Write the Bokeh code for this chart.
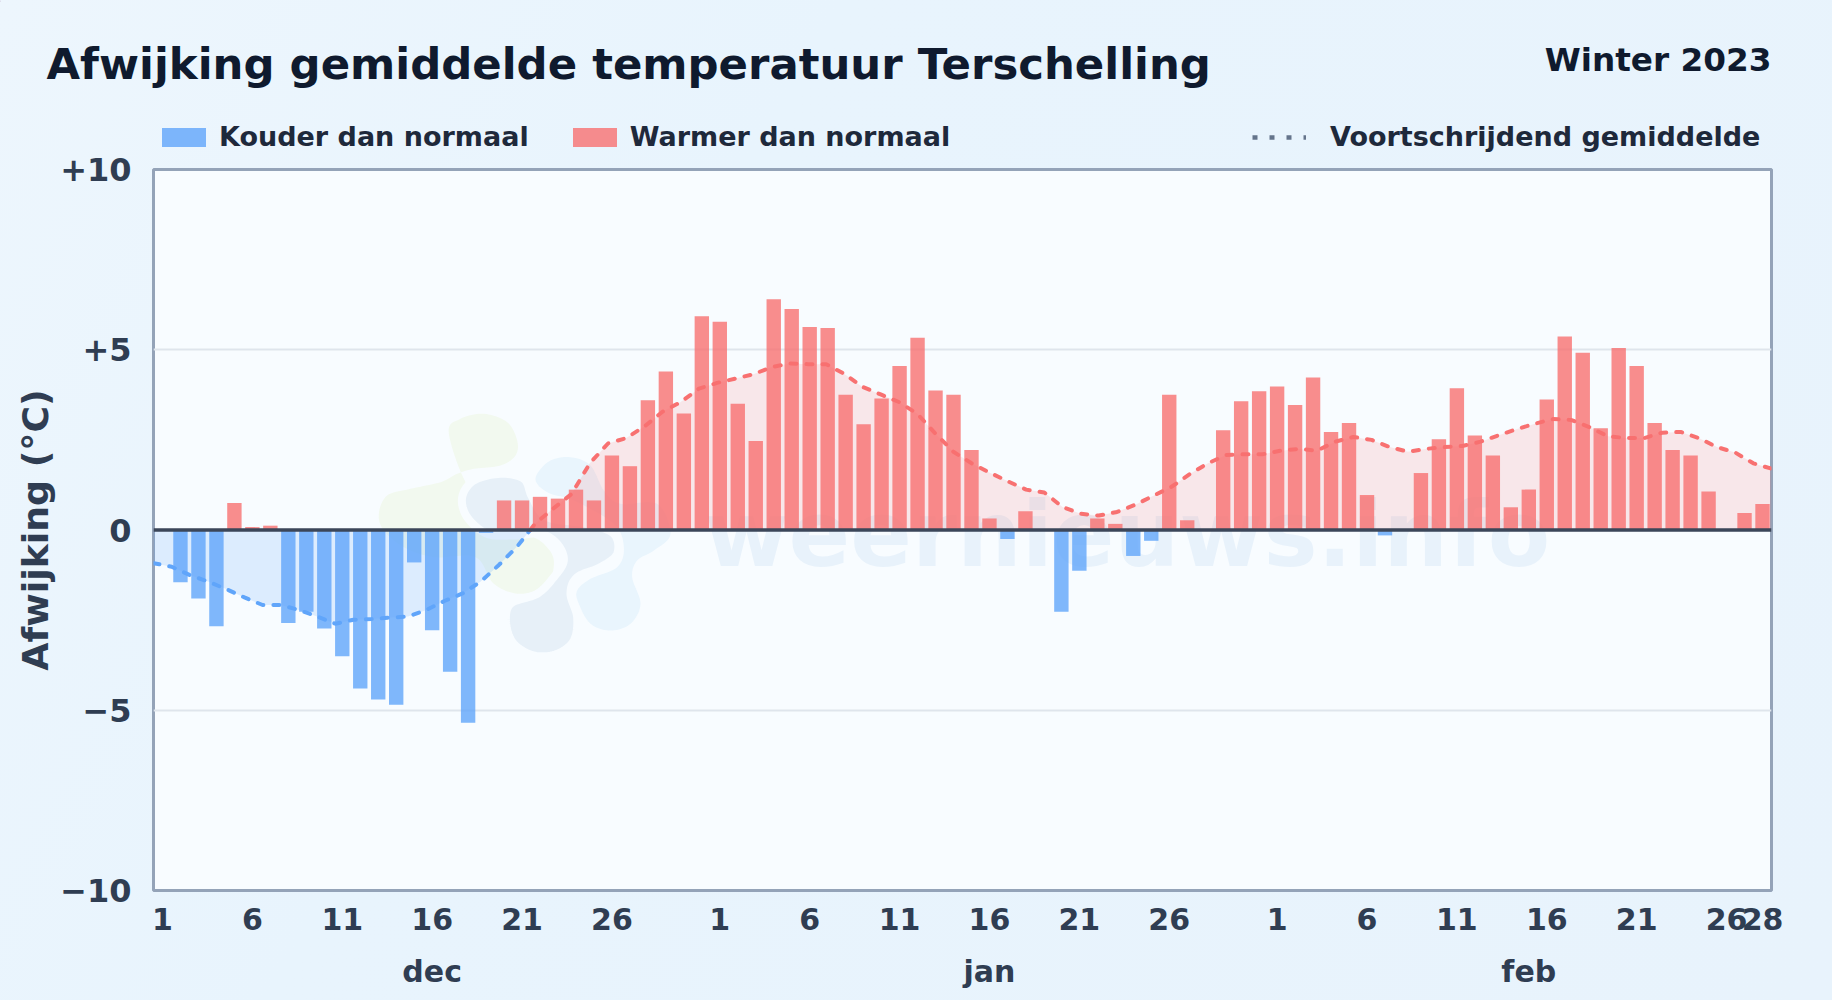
from bokeh.plotting import figure
from bokeh.models import (Range1d, LinearAxis, FixedTicker, Span, Label, Legend, LegendItem,
                          ColumnDataSource, AllLabels)
from bokeh.embed import file_html
from bokeh.resources import INLINE

FONT = "DejaVu Sans"

# --- data -----------------------------------------------------------------
dec_values = [0, -1.45, -1.9, -2.67, 0.75, 0.08, 0.12, -2.58, -2.27, -2.73, -3.5, -4.4, -4.7, -4.85,
              -0.9, -2.78, -3.93, -5.35, -0.08, 0.82, 0.82, 0.92, 0.87, 1.12, 0.82, 2.07, 1.77, 3.6, 4.4,
              3.23, 5.93]
jan_values = [5.78, 3.5, 2.47, 6.4, 6.13, 5.63, 5.6, 3.75, 2.93, 3.65, 4.55, 5.33, 3.87, 3.75, 2.22, 0.32,
              -0.25, 0.52, 0, -2.27, -1.13, 0.32, 0.17, -0.72, -0.3, 3.75, 0.27, 0, 2.77, 3.57, 3.85]
feb_values = [3.98, 3.47, 4.23, 2.72, 2.97, 0.97, -0.15, 0, 1.58, 2.52, 3.93, 2.62, 2.07, 0.63, 1.12, 3.62,
              5.37, 4.92, 2.82, 5.05, 4.55, 2.97, 2.22, 2.07, 1.07, 0, 0.47, 0.72]
rolling_mean = [-0.92, -1.02, -1.25, -1.43, -1.64, -1.87, -2.08, -2.08, -2.22, -2.4, -2.6, -2.49,
                -2.47, -2.43, -2.4, -2.22, -1.97, -1.76, -1.43, -0.97, -0.46, 0.18, 0.6, 1.0, 1.85,
                2.4, 2.55, 2.87, 3.28, 3.55, 3.92, 4.08, 4.2, 4.32, 4.52, 4.62, 4.6, 4.6, 4.33,
                3.97, 3.76, 3.55, 3.23, 2.68, 2.17, 1.85, 1.59, 1.35, 1.12, 1.04, 0.64, 0.45, 0.4,
                0.5, 0.7, 0.95, 1.2, 1.55, 1.85, 2.08, 2.1, 2.1, 2.2, 2.25, 2.2, 2.45, 2.58, 2.5,
                2.3, 2.17, 2.25, 2.3, 2.33, 2.45, 2.63, 2.8, 2.95, 3.08, 3.05, 2.85, 2.6, 2.55,
                2.55, 2.7, 2.72, 2.55, 2.3, 2.15, 1.85, 1.7]
month_names = ["dec", "jan", "feb"]
month_days = [[1, 6, 11, 16, 21, 26], [1, 6, 11, 16, 21, 26], [1, 6, 11, 16, 21, 26, 28]]
month_lengths = [31, 31, 28]
month_centres = [16, 16, 15]
y_ticks = [-10, -5, 0, 5, 10]
y_tick_labels = ["\u221210", "\u22125", "0", "+5", "+10"]

TITLE = "Afwijking gemiddelde temperatuur Terschelling"
SUBTITLE = "Winter 2023"
WATERMARK = "weernieuws.info"

# --- derived --------------------------------------------------------------
all_values = dec_values + jan_values + feb_values
days = list(range(1, len(all_values) + 1))
neg = dict(x=[d for d, v in zip(days, all_values) if v < 0], y=[v for v in all_values if v < 0])
pos = dict(x=[d for d, v in zip(days, all_values) if v > 0], y=[v for v in all_values if v > 0])

xticks, xover, offset = [], {}, 0
mticks, mover = [], {}
for name, ds, ln, c in zip(month_names, month_days, month_lengths, month_centres):
    for d in ds:
        xticks.append(offset + d)
        xover[offset + d] = str(d)
    mticks.append(offset + c)
    mover[offset + c] = name
    offset += ln

# split the rolling mean where it crosses zero
idx = list(range(len(rolling_mean)))
cross = next(i for i in idx[:-1] if rolling_mean[i] < 0 <= rolling_mean[i + 1])
a, b = rolling_mean[cross], rolling_mean[cross + 1]
xc = cross + (-a) / (b - a)
neg_x = idx[:cross + 1] + [xc]
neg_y = rolling_mean[:cross + 1] + [0.0]
pos_x = [xc] + idx[cross + 1:]
pos_y = [0.0] + rolling_mean[cross + 1:]

# --- header figure: title, subtitle, legends ------------------------------
PAGE_W, PAGE_H = 1832, 1000
HEAD_H = 162
OVERLAP = 12
h = figure(width=PAGE_W, height=HEAD_H, output_backend="svg", toolbar_location=None,
           x_range=Range1d(0, PAGE_W), y_range=Range1d(HEAD_H, 0), x_axis_type=None, y_axis_type=None,
           min_border=0, min_border_left=0, min_border_right=0, min_border_top=0, min_border_bottom=0)
h.background_fill_alpha = 0
h.border_fill_alpha = 0
h.outline_line_color = None
h.grid.visible = False

DARK = "#0f1a2e"
h.add_layout(Label(x=46, y=63, text=TITLE, text_font=FONT, text_font_style="bold", text_font_size="43.4px",
                   text_color=DARK, text_baseline="alphabetic"))
h.add_layout(Label(x=1771, y=59.5, text=SUBTITLE, text_font=FONT, text_font_style="bold", text_font_size="32.7px",
                   text_color=DARK, text_align="right", text_baseline="alphabetic"))

# legend keys: glyphs lying off the visible range, only their legend swatches show
key_neg = h.vbar(x=[-500], top=[1], bottom=0, width=1, fill_color="#60a5fa", fill_alpha=0.8, line_color=None)
key_pos = h.vbar(x=[-500], top=[1], bottom=0, width=1, fill_color="#f87171", fill_alpha=0.8, line_color=None)
key_roll = h.line([-500, -400], [1, 1], line_color="#64748b", line_width=4.5, line_dash="5 12")

LEG = "#1e293b"
common = dict(orientation="horizontal", background_fill_alpha=0, border_line_alpha=0, padding=0, margin=0,
              label_text_font=FONT, label_text_font_style="bold", label_text_font_size="27px",
              label_text_color=LEG, label_text_baseline="middle")
l1 = Legend(items=[LegendItem(label="Kouder dan normaal", renderers=[key_neg]),
                   LegendItem(label="Warmer dan normaal", renderers=[key_pos])],
            location=(156, 10), glyph_width=55, glyph_height=24, label_standoff=8, spacing=38, **common)
l2 = Legend(items=[LegendItem(label="Voortschrijdend gemiddelde", renderers=[key_roll])],
            location=(1252, 10), glyph_width=54, glyph_height=24, label_standoff=24, **common)
h.add_layout(l1, "center")
h.add_layout(l2, "center")

# --- main figure ----------------------------------------------------------
TOP = HEAD_H - OVERLAP
FL, FT, FW, FH = 153, 169 - TOP, 1618, 721
MAIN_H = PAGE_H - TOP
p = figure(width=PAGE_W, height=MAIN_H, output_backend="svg", toolbar_location=None,
           x_range=Range1d(0.5, 90.5), y_range=Range1d(-10, 10),
           min_border_left=FL, min_border_top=FT, min_border_right=PAGE_W - FL - FW,
           min_border_bottom=MAIN_H - FT - FH)
p.styles = {"margin-top": f"-{OVERLAP}px"}
p.extra_x_ranges["idx"] = Range1d(0, 89)
p.extra_x_ranges["px"] = Range1d(153, 1771)
p.extra_y_ranges["py"] = Range1d(890, 169)
p.background_fill_color = "#f8fcff"
p.border_fill_alpha = 0
p.outline_line_color = "#94a3b8"
p.outline_line_width = 3

TICK = "#2f3d52"
xa = p.xaxis[0]
xa.ticker = FixedTicker(ticks=xticks)
xa.major_label_overrides = xover
xa.major_label_policy = AllLabels()
ya = p.yaxis[0]
ya.ticker = FixedTicker(ticks=y_ticks)
ya.major_label_overrides = dict(zip(y_ticks, y_tick_labels))
ya.axis_label = "Afwijking (\u00b0C)"
ya.axis_label_text_font = FONT
ya.axis_label_text_font_style = "bold"
ya.axis_label_text_font_size = "36.3px"
ya.axis_label_text_color = TICK
ya.axis_label_standoff = 0
ma = LinearAxis(ticker=FixedTicker(ticks=mticks), major_label_overrides=mover)
p.add_layout(ma, "below")
for ax in (xa, ya, ma):
    ax.axis_line_color = None
    ax.major_tick_line_color = None
    ax.minor_tick_line_color = None
    ax.major_tick_in = 0
    ax.major_tick_out = 0
    ax.minor_tick_in = 0
    ax.minor_tick_out = 0
    ax.major_label_text_font = FONT
    ax.major_label_text_font_style = "bold"
    ax.major_label_text_font_size = "30px"
    ax.major_label_text_color = TICK
ya.major_label_text_font_size = "32px"
xa.major_label_standoff = 17
ya.major_label_standoff = 22
ma.major_label_standoff = 21

p.xgrid.visible = False
g = p.ygrid[0]
g.ticker = FixedTicker(ticks=[-5, 5])
g.grid_line_color = "#dfe5ec"
g.grid_line_width = 2


# logo watermark (decoration, in page pixels)
def smooth(pts, n=10):
    out = []
    m = len(pts)
    for i in range(m):
        p0, p1, p2, p3 = pts[i - 1], pts[i], pts[(i + 1) % m], pts[(i + 2) % m]
        for k in range(n):
            t = k / n
            f = lambda a, b, c, d: 0.5 * (2 * b + (c - a) * t + (2 * a - 5 * b + 4 * c - d) * t * t
                                          + (3 * b - a - 3 * c + d) * t ** 3)
            out.append((360 + f(p0[0], p1[0], p2[0], p3[0]) / 3, 390 + f(p0[1], p1[1], p2[1], p3[1]) / 3))
    return [q[0] for q in out], [q[1] for q in out]


logo_green = [(265, 130), (300, 85), (370, 70), (440, 95), (470, 150), (465, 195), (420, 225), (340, 235),
              (290, 250), (240, 275), (150, 295), (80, 315), (55, 370), (70, 420), (130, 470), (220, 500),
              (345, 500), (400, 580), (480, 610), (560, 580), (580, 510), (550, 460), (500, 430), (450, 400),
              (330, 300)]
logo_blue = [(530, 250), (570, 210), (630, 200), (690, 225), (730, 300), (780, 340), (890, 340), (930, 430),
             (880, 480), (830, 510), (815, 560), (840, 640), (810, 700), (750, 720), (690, 700), (655, 640),
             (650, 600), (690, 565), (770, 530), (790, 470), (760, 400), (640, 330), (570, 310), (530, 280)]
logo_navy = [(305, 320), (340, 270), (420, 250), (490, 265), (515, 320), (560, 380), (680, 400), (760, 430),
             (770, 490), (720, 530), (650, 560), (630, 610), (650, 680), (640, 750), (590, 790), (520, 795),
             (460, 760), (437, 700), (450, 640), (530, 610), (580, 560), (610, 510), (590, 460), (540, 430),
             (460, 435), (380, 430), (320, 380)]
for shape, colour, edge in ((logo_green, "#f2f9ef", None), (logo_blue, "#e9f5fd", None), (logo_navy, "#e7f0f8", "#f8fcff")):
    xs, ys = smooth(shape)
    p.patch(xs, ys, x_range_name="px", y_range_name="py", fill_color=colour, line_color=edge,
            line_width=8 if edge else 0, level="underlay")

p.add_layout(Label(x=704, y=534, x_range_name="px", y_range_name="py", text=WATERMARK,
                   text_font=FONT, text_font_style="bold", text_font_size="91px", text_color="#2f7fc8",
                   text_alpha=0.08, text_baseline="alphabetic", level="underlay"))

# rolling mean area + dashed line
p.varea(neg_x, [0] * len(neg_x), neg_y, x_range_name="idx", fill_color="#60a5fa", fill_alpha=0.18)
p.varea(pos_x, [0] * len(pos_x), pos_y, x_range_name="idx", fill_color="#f87171", fill_alpha=0.15)
DASH = "6 10"
p.line(neg_x, neg_y, x_range_name="idx", line_color="#60a5fa", line_width=4, line_dash=DASH, line_cap="round")
p.line(pos_x, pos_y, x_range_name="idx", line_color="#f87171", line_width=4, line_dash=DASH, line_cap="round")

# bars
p.vbar(x="x", top="y", bottom=0, width=0.8, source=ColumnDataSource(neg), fill_color="#60a5fa",
       fill_alpha=0.8, line_color=None)
p.vbar(x="x", top="y", bottom=0, width=0.8, source=ColumnDataSource(pos), fill_color="#f87171",
       fill_alpha=0.8, line_color=None)

p.add_layout(Span(location=0, dimension="width", line_color="#3b4659", line_width=3.5))

html = file_html([h, p], INLINE)
html = html.replace("<head>", "<head><style>html,body{margin:0;background:linear-gradient(120deg,#edf6fd 0%,#e8f4fd 35%,#e8f3fc 100%);background-attachment:fixed;overflow:hidden}</style>", 1)
open("out.html", "w").write(html)
